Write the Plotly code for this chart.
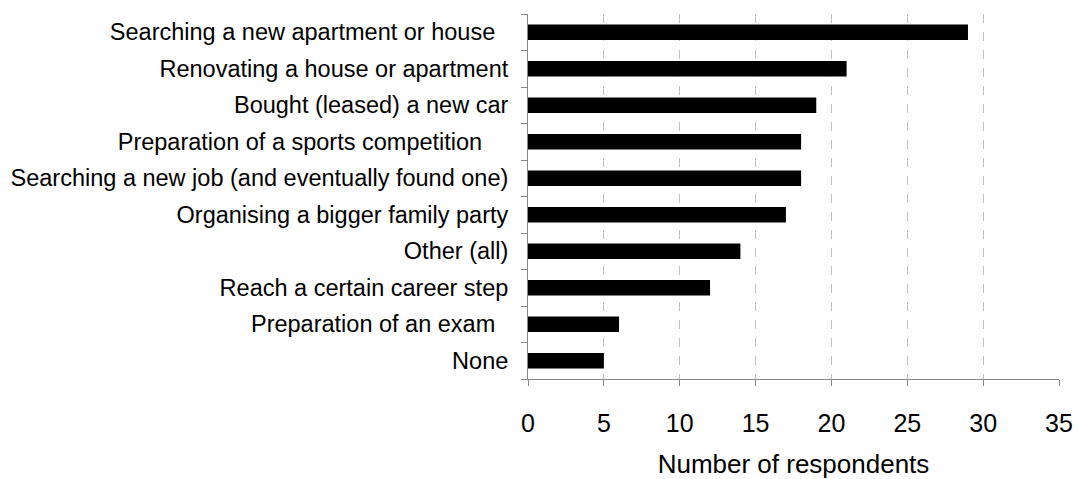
import plotly.graph_objects as go

categories = [
    "Searching a new apartment or house\u00a0\u00a0",
    "Renovating a house or apartment",
    "Bought (leased) a new car",
    "Preparation of a sports competition\u00a0\u00a0\u00a0\u00a0",
    "Searching a new job (and eventually found one)",
    "Organising a bigger family party",
    "Other (all)",
    "Reach a certain career step",
    "Preparation of an exam\u00a0\u00a0",
    "None",
]
values = [29, 21, 19, 18, 18, 17, 14, 12, 6, 5]
x_ticks = [0, 5, 10, 15, 20, 25, 30, 35]

fig = go.Figure(go.Bar(
    x=values,
    y=categories,
    orientation="h",
    marker=dict(color="#000000", line=dict(width=0)),
    width=0.42,
))

fig.update_layout(
    width=1079, height=479,
    margin=dict(l=528, r=20, t=14, b=100, autoexpand=False),
    plot_bgcolor="white", paper_bgcolor="white",
    font=dict(family="Liberation Sans, Arial, sans-serif", color="#000000"),
    showlegend=False,
)

fig.update_xaxes(
    range=[0, 35],
    tickvals=x_ticks,
    showgrid=True, gridcolor="#c0c0c0", griddash="dash", gridwidth=1,
    showline=True, linecolor="#888888", linewidth=1,
    ticks="outside", ticklen=6, tickcolor="#888888",
    tickfont=dict(size=25),
    ticklabelstandoff=16,
    zeroline=False, automargin=False,
    title=dict(text="Number of respondents", font=dict(size=26), standoff=22),
)

fig.update_yaxes(
    categoryorder="array", categoryarray=categories[::-1],
    autorange=False, range=[-0.5, len(categories) - 0.5],
    showgrid=False,
    showline=True, linecolor="#888888", linewidth=1,
    ticks="outside", ticklen=6, tickcolor="#888888",
    tickson="boundaries",
    tickfont=dict(size=23.5),
    ticklabelstandoff=14,
    zeroline=False, automargin=False,
)

fig.write_html("out.html")
